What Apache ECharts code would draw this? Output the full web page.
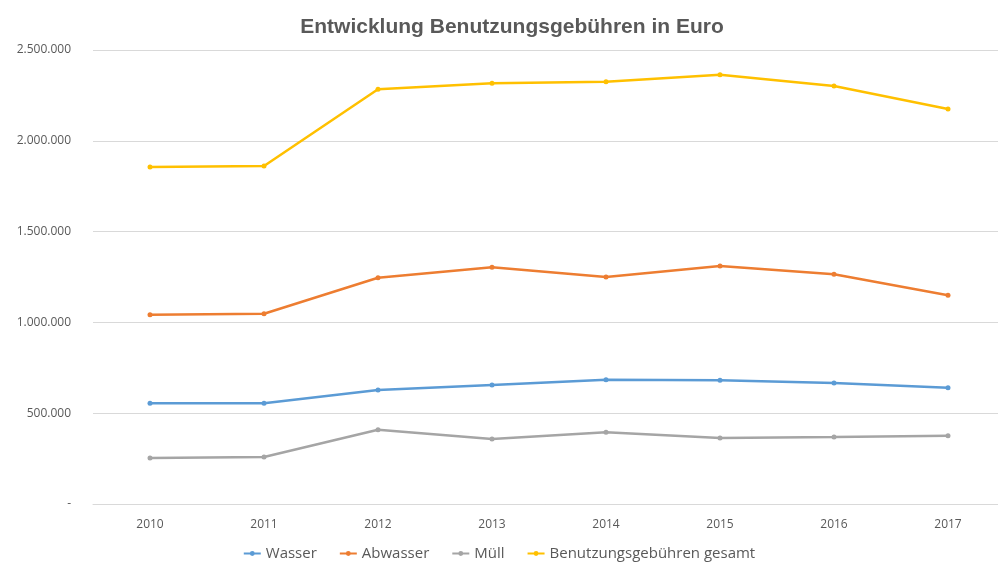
<!DOCTYPE html>
<html><head><meta charset="utf-8">
<script src="https://cdn.jsdelivr.net/npm/echarts@6/dist/echarts.min.js"></script>
<style>html,body{margin:0;padding:0;background:#fff}#c{width:998px;height:563px}</style>
</head><body><div id="c"></div>
<script>
const years = ['2010','2011','2012','2013','2014','2015','2016','2017'];
const wasser = [554500, 554500, 627800, 655300, 684500, 681200, 666300, 640400];
const abwasser = [1042400, 1047900, 1246100, 1303400, 1250000, 1310600, 1264800, 1149200];
const muell = [253300, 258800, 409100, 357900, 394800, 363400, 368900, 376100];
const gesamt = [1855700, 1861200, 2283600, 2316600, 2325400, 2364000, 2301800, 2175100];
const seriesNames = ['Wasser','Abwasser','Müll','Benutzungsgebühren gesamt'];
const colors = ['#5B9BD5','#ED7D31','#A5A5A5','#FFC000'];
const yTicks = [0, 500000, 1000000, 1500000, 2000000, 2500000];

function fmt(v){
  if (v === 0) return '-';
  return String(v).replace(/\B(?=(\d{3})+(?!\d))/g, '.');
}
const font = 'Liberation Sans, Arial, sans-serif';
const font2 = 'Open Sans, sans-serif';
const chart = echarts.init(document.getElementById('c'));
const data = [wasser, abwasser, muell, gesamt];
chart.setOption({
  animation: false,
  backgroundColor: '#fff',
  title: {
    text: 'Entwicklung Benutzungsgebühren in Euro',
    left: 507, top: 12, textAlign: 'center',
    textStyle: {fontFamily: font, fontSize: 21, fontWeight: 'bold', color: '#595959'}
  },
  legend: {
    bottom: -3, left: 'center', itemGap: 22, itemWidth: 17, itemHeight: 6,
    textStyle: {fontFamily: font2, fontSize: 15, color: '#595959'},
    data: seriesNames
  },
  grid: {left: 93, width: 912, top: 50, bottom: 59, containLabel: false, outerBoundsMode: 'none'},
  xAxis: {
    type: 'category', data: years, boundaryGap: true,
    axisLine: {lineStyle: {color: '#D9D9D9'}},
    axisTick: {show: false},
    axisLabel: {fontFamily: font2, fontSize: 12, color: '#595959', margin: 15}
  },
  yAxis: {
    type: 'value', min: yTicks[0], max: yTicks[yTicks.length-1], interval: 500000,
    axisLine: {show: false}, axisTick: {show: false},
    splitLine: {lineStyle: {color: '#D9D9D9'}},
    axisLabel: {fontFamily: font2, fontSize: 12, color: '#595959', margin: 22, formatter: fmt}
  },
  series: seriesNames.map((n,i)=>({
    name: n, type: 'line', data: data[i],
    symbol: 'circle', symbolSize: 5,
    lineStyle: {width: 2.5, color: colors[i]},
    itemStyle: {color: colors[i]}
  }))
});
</script></body></html>
